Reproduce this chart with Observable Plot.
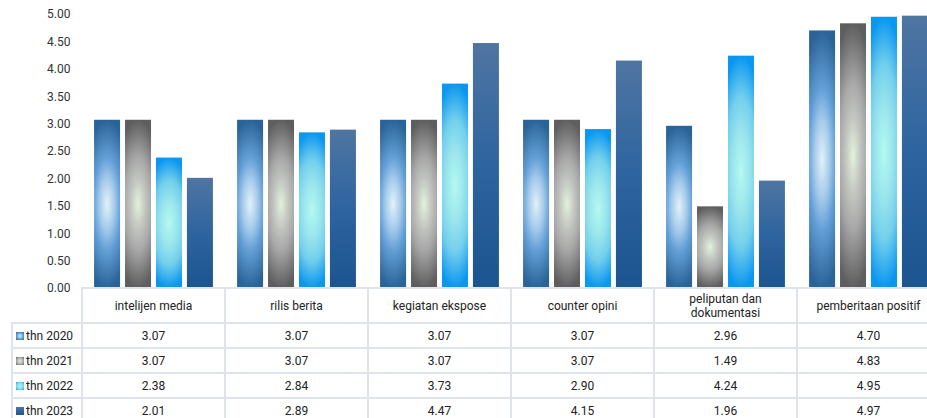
<!DOCTYPE html>
<html><head><meta charset="utf-8">
<script src="https://cdn.jsdelivr.net/npm/d3@7"></script>
<script src="https://cdn.jsdelivr.net/npm/@observablehq/plot@0.6"></script>
<style>
html,body{margin:0;padding:0;background:#fff;overflow:hidden;width:927px;height:418px}
#wrap{position:relative;width:940px;height:418px;font-family:Roboto,sans-serif;color:#222}
#wrap svg{position:absolute;left:0;top:0;overflow:visible}
table{position:absolute;left:0;top:287px;border-collapse:collapse;table-layout:fixed;font-size:12px;width:940px}
td{border:2px solid #dfe3ea;text-align:center;padding:0;line-height:14px}
td.e{border:none}
td.lg{text-align:left;padding-left:3px;white-space:nowrap}
.sw{display:inline-block;width:8px;height:8px;margin-right:2px;vertical-align:-0px}
</style></head><body><div id="wrap"></div>
<script>
const categories = ["intelijen media","rilis berita","kegiatan ekspose","counter opini","peliputan dan dokumentasi","pemberitaan positif"];
const categoryLabels = ["intelijen media","rilis berita","kegiatan ekspose","counter opini","peliputan dan<br>dokumentasi","pemberitaan positif"];
const years = ["thn 2020","thn 2021","thn 2022","thn 2023"];
const v2020 = [3.07,3.07,3.07,3.07,2.96,4.70];
const v2021 = [3.07,3.07,3.07,3.07,1.49,4.83];
const v2022 = [2.38,2.84,3.73,2.90,4.24,4.95];
const v2023 = [2.01,2.89,4.47,4.15,1.96,4.97];
const yTicks = [0,0.5,1,1.5,2,2.5,3,3.5,4,4.5,5];

const series = [v2020,v2021,v2022,v2023];
const gradIds = ["g2020","g2021","g2022","g2023"];
const swatchCss = [
  "radial-gradient(circle,#e3f1f9 0%,#5b9ad4 60%,#2b6698 100%)",
  "radial-gradient(circle,#e2f0da 0%,#a9aaa8 60%,#5f5f5f 100%)",
  "radial-gradient(circle,#b2f8f0 0%,#7fd6ea 60%,#0a98f0 100%)",
  "linear-gradient(#4f75a2,#1c558f)"
];
const data = [];
series.forEach((s, j) => s.forEach((v, i) => data.push({cat: categories[i], year: years[j], value: v, grad: `url(#${gradIds[j]})`})));

const defs = () => {
  const ns = "http://www.w3.org/2000/svg";
  const d = document.createElementNS(ns, "defs");
  d.innerHTML = `
  <radialGradient id="g2020" cx="0.5" cy="0.5" r="0.5" gradientTransform="translate(0.5,0.5) scale(1.9,1) translate(-0.5,-0.5)">
    <stop offset="0" stop-color="#e3f1f9"/><stop offset="0.3" stop-color="#a6cbeb"/><stop offset="0.55" stop-color="#64a0d7"/><stop offset="1" stop-color="#2a6397"/></radialGradient>
  <radialGradient id="g2021" cx="0.5" cy="0.5" r="0.5" gradientTransform="translate(0.5,0.5) scale(1.9,1) translate(-0.5,-0.5)">
    <stop offset="0" stop-color="#e2f2dc"/><stop offset="0.3" stop-color="#c2c5bf"/><stop offset="0.55" stop-color="#a8a8a8"/><stop offset="1" stop-color="#5e5e5e"/></radialGradient>
  <radialGradient id="g2022" cx="0.5" cy="0.5" r="0.5" gradientTransform="translate(0.5,0.5) scale(1.9,1) translate(-0.5,-0.5)">
    <stop offset="0" stop-color="#b4faf1"/><stop offset="0.35" stop-color="#9ae5ec"/><stop offset="0.65" stop-color="#72cfec"/><stop offset="1" stop-color="#0a97f0"/></radialGradient>
  <linearGradient id="g2023" x1="0" y1="0" x2="0" y2="1">
    <stop offset="0" stop-color="#4f75a2"/><stop offset="0.5" stop-color="#2e64a0"/><stop offset="1" stop-color="#1b548e"/></linearGradient>`;
  return d;
};

const chart = Plot.plot({
  width: 940, height: 290,
  marginLeft: 82, marginRight: 0, marginTop: 14, marginBottom: 2,
  style: {fontFamily: "Roboto, sans-serif", fontSize: "12px", color: "#333", background: "transparent"},
  fx: {domain: categories, padding: 0, round: false, axis: null},
  x: {domain: years, paddingInner: 0.16, paddingOuter: 0.39, round: false, axis: null},
  y: {domain: [0, 5], ticks: yTicks, tickFormat: d3.format(".2f"), tickSize: 0, tickPadding: 12, label: null},
  color: {type: "identity"},
  marks: [
    defs,
    Plot.barY(data, {fx: "cat", x: "year", y: "value", fill: "grad"})
  ]
});
const wrap = document.getElementById("wrap");
wrap.appendChild(chart);

let html = `<table><colgroup><col style="width:12px"><col style="width:70px">${categories.map(() => '<col style="width:143px">').join("")}</colgroup>`;
html += `<tr style="height:35px"><td class="e"></td><td class="e"></td>${categoryLabels.map(c => `<td>${c}</td>`).join("")}</tr>`;
series.forEach((s, j) => {
  html += `<tr style="height:25px"><td class="e"></td><td class="lg"><span class="sw" style="background:${swatchCss[j]}"></span>${years[j]}</td>${s.map(v => `<td>${v.toFixed(2)}</td>`).join("")}</tr>`;
});
html += `</table>`;
wrap.insertAdjacentHTML("beforeend", html);
</script>
</body></html>
